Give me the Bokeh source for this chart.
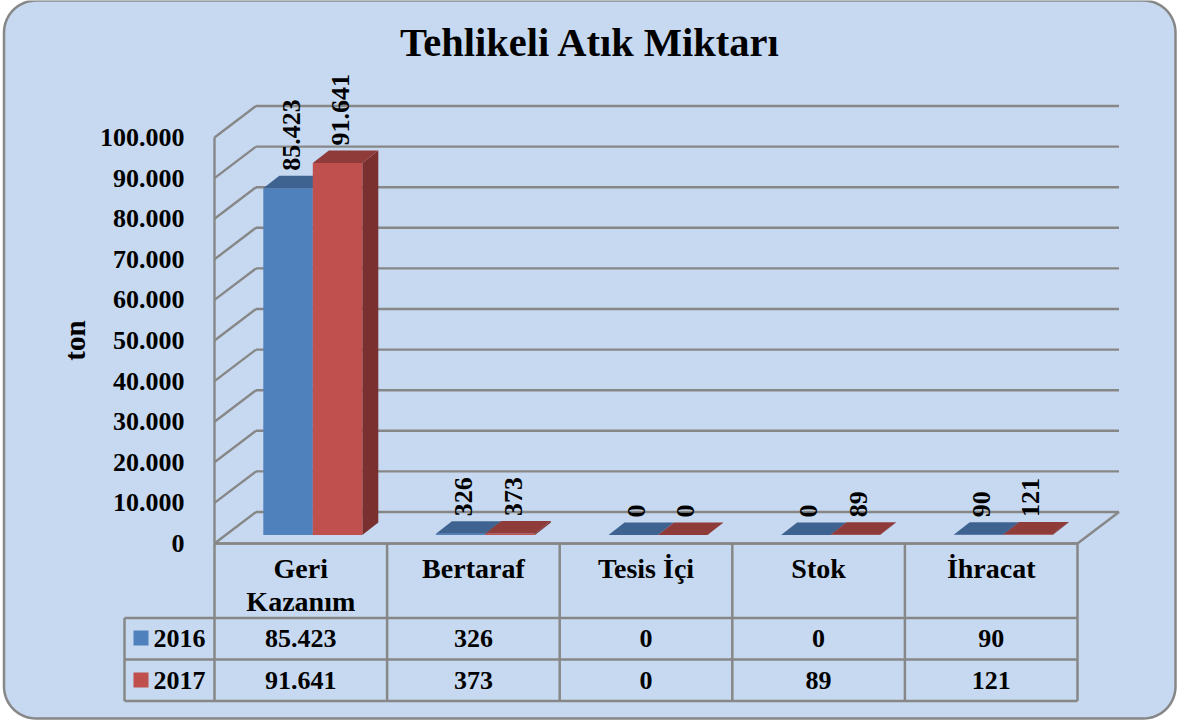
import numpy as np
from bokeh.core.properties import value
from bokeh.embed import file_html
from bokeh.models import FixedTicker, LinearAxis, Range1d
from bokeh.plotting import figure
from bokeh.resources import INLINE

# ---- chart data ----
title = "Tehlikeli Atık Miktarı"
y_title = "ton"
categories = ["Geri\nKazanım", "Bertaraf", "Tesis İçi", "Stok", "İhracat"]
years = ["2016", "2017"]
series_2016 = [85423, 326, 0, 0, 90]
series_2017 = [91641, 373, 0, 89, 121]
labels_2016 = ["85.423", "326", "0", "0", "90"]
labels_2017 = ["91.641", "373", "0", "89", "121"]
tick_values = [0, 10000, 20000, 30000, 40000, 50000, 60000, 70000, 80000, 90000, 100000]
tick_labels = ["0", "10.000", "20.000", "30.000", "40.000", "50.000",
               "60.000", "70.000", "80.000", "90.000", "100.000"]

# ---- layout / style ----
W, H = 1180, 720
X0, Y0 = 214.0, 543.0      # pixel of category 0 / value 0 on the front plane
PX_PER_CAT = 172.6
PX_PER_VAL = 0.00406
FONT = value("Liberation Serif")
GREY = "#878787"
BLUE, BLUE_TOP = "#4f81bd", "#3f6391"
RED, RED_TOP, RED_SIDE = "#c0504d", "#8e3b39", "#7a302e"
PANEL = "#c6d9f1"


def cx(px):
    return px / PX_PER_CAT


def cv(px):
    return px / PX_PER_VAL


p = figure(
    width=W, height=H, output_backend="svg", toolbar_location=None,
    x_axis_location=None, y_axis_location=None,
    x_range=Range1d(-cx(X0), cx(W - X0)),
    y_range=Range1d(-cv(H - Y0), cv(Y0)),
    min_border=0, outline_line_color=None,
    background_fill_color=None, border_fill_color=None,
)
p.grid.visible = False
p.margin = (0, 0, 0, 0)
p.extra_x_ranges = {"px": Range1d(0, W)}
p.extra_y_ranges = {"px": Range1d(H, 0)}
PXR = dict(x_range_name="px", y_range_name="px")

# rounded panel
l, r, t, b, rad = 3.5, 1175, 0, 718, 32
pts = []
for (ccx, ccy, a0) in [(r - rad, t + rad, -90), (r - rad, b - rad, 0),
                       (l + rad, b - rad, 90), (l + rad, t + rad, 180)]:
    for a in np.radians(np.linspace(a0, a0 + 90, 16)):
        pts.append((ccx + rad * np.cos(a), ccy + rad * np.sin(a)))
p.patch([q[0] for q in pts], [q[1] for q in pts], fill_color=PANEL,
        line_color=GREY, line_width=2.5, **PXR)

# title
p.text([590], [42], text=[title], text_font=FONT, text_font_style="bold",
       text_font_size="40.5px", text_align="center", text_baseline="middle",
       text_color="black", **PXR)

# walls and gridlines
WALL_DX, WALL_DY = cx(41.5), cv(31.5)
n = len(categories)
p.segment([0] * len(tick_values), tick_values,
          [WALL_DX] * len(tick_values), [v + WALL_DY for v in tick_values],
          line_color=GREY, line_width=2.4)
p.segment([WALL_DX] * len(tick_values), [v + WALL_DY for v in tick_values],
          [n + WALL_DX] * len(tick_values), [v + WALL_DY for v in tick_values],
          line_color=GREY, line_width=2.4)
p.segment([0, n], [0, 0], [n, n + WALL_DX], [0, WALL_DY],
          line_color=GREY, line_width=2.4)

# y axis
axis = LinearAxis(
    fixed_location=0, bounds=(0, 100000),
    ticker=FixedTicker(ticks=tick_values),
    major_label_overrides=dict(zip(tick_values, tick_labels)),
    major_tick_line_color=None, minor_tick_line_color=None,
    axis_line_color=GREY, axis_line_width=2.4,
    major_label_standoff=24,
    major_label_text_font="Liberation Serif",
    major_label_text_font_style="bold",
    major_label_text_font_size="26px",
    major_label_text_color="black",
    axis_label=y_title,
    axis_label_standoff=6,
    axis_label_text_font="Liberation Serif",
    axis_label_text_font_style="bold",
    axis_label_text_font_size="29px",
    axis_label_text_color="black",
)
p.add_layout(axis, "left")

# 3-D bars
BAR_W = cx(49.5)
OFF_X, OFF_V = cx(12), cv(8.5)       # front face shift from the front plane
D_X, D_V = cx(16), cv(12.5)          # bar depth
for k, (vals, front, top, side, lbl) in enumerate([
    (series_2016, BLUE, BLUE_TOP, BLUE_TOP, labels_2016),
    (series_2017, RED, RED_TOP, RED_SIDE, labels_2017),
]):
    xs0 = [i + 0.5 + OFF_X + (k - 1) * BAR_W for i in range(n)]
    xs1 = [x + BAR_W for x in xs0]
    tops = [v + OFF_V for v in vals]
    bottoms = [OFF_V] * n
    # side face
    p.patches([[x1, x1 + D_X, x1 + D_X, x1] for x1 in xs1],
              [[b0, b0 + D_V, tv + D_V, tv] for b0, tv in zip(bottoms, tops)],
              fill_color=side, line_color=None)
    # front face
    p.vbar(x=[(a + c) / 2 for a, c in zip(xs0, xs1)], width=BAR_W,
           bottom=bottoms, top=tops, fill_color=front, line_color=None)
    # top face
    p.patches([[a, c, c + D_X, a + D_X] for a, c in zip(xs0, xs1)],
              [[tv, tv, tv + D_V, tv + D_V] for tv in tops],
              fill_color=top, line_color=None)
    # data labels
    p.text([(a + c) / 2 + cx(3) for a, c in zip(xs0, xs1)],
           [tv + D_V + cv(5) for tv in tops], text=lbl, angle=np.pi / 2,
           text_font=FONT, text_font_style="bold", text_font_size="26px",
           text_align="left", text_baseline="middle", text_color="black")

# data table
col_px = [X0 + i * PX_PER_CAT for i in range(n + 1)]
ROW_Y = [Y0, 617.5, 659, 700.5]
LEG_X = 124
p.segment(col_px, [Y0] * (n + 1), col_px, [ROW_Y[-1]] * (n + 1),
          line_color=GREY, line_width=2.5, **PXR)
p.segment([X0, LEG_X, LEG_X], [Y0, ROW_Y[2], ROW_Y[3]],
          [X0 + n * PX_PER_CAT] * 3, [Y0, ROW_Y[2], ROW_Y[3]],
          line_color=GREY, line_width=2.5, **PXR)
p.segment([LEG_X, LEG_X], [ROW_Y[1], ROW_Y[1]], [col_px[-1], LEG_X],
          [ROW_Y[1], ROW_Y[3]], line_color=GREY, line_width=2.5, **PXR)

centres = [(a + c) / 2 for a, c in zip(col_px[:-1], col_px[1:])]
p.text(centres, [552] * n, text=categories, text_font=FONT, text_font_style="bold",
       text_font_size="28px", text_align="center", text_baseline="top",
       text_line_height=1.08, text_color="black", **PXR)
p.text(centres, [637.5] * n, text=labels_2016, text_font=FONT, text_font_style="bold",
       text_font_size="26px", text_align="center", text_baseline="middle",
       text_color="black", **PXR)
p.text(centres, [680] * n, text=labels_2017, text_font=FONT, text_font_style="bold",
       text_font_size="26px", text_align="center", text_baseline="middle",
       text_color="black", **PXR)

# legend keys in the table
p.rect([140.5, 140.5], [637.5, 679.5], width=15, height=15,
       fill_color=[BLUE, RED], line_color=None, **PXR)
p.text([153, 153], [638, 680], text=years, text_font=FONT, text_font_style="bold",
       text_font_size="26px", text_align="left", text_baseline="middle",
       text_color="black", **PXR)

open("out.html", "w").write(file_html(p, INLINE))
